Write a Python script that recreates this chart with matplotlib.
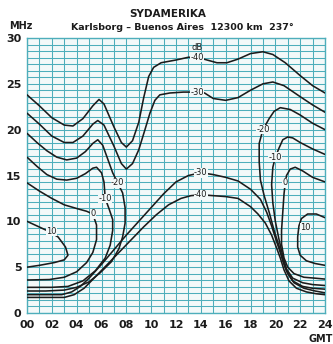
import matplotlib
matplotlib.use("Agg")
import matplotlib.pyplot as plt
import numpy as np

# Kurvor (tid i GMT, frekvens i MHz) avlasta fran diagrammet

m40_upp_t = [0, 1, 2, 3, 3.7, 4.5, 5.3, 5.8, 6.2, 7.0, 7.6, 8.0, 8.5, 9.0, 9.4, 9.8, 10.2, 10.8,
             12.0, 13.0, 13.7, 14.5, 15.3, 16.1, 17.0, 18.0, 19.0, 19.8, 20.8, 22.0, 23.0, 24]
m40_upp_f = [23.8, 22.6, 21.3, 20.5, 20.4, 21.2, 22.6, 23.3, 22.8, 20.3, 18.6, 18.1, 18.8, 20.8, 23.5,
             25.8, 26.8, 27.3, 27.6, 27.9, 27.9, 27.6, 27.3, 27.3, 27.7, 28.3, 28.5, 28.2, 27.3, 25.9, 24.8, 24.0]

m30_upp_t = [0, 1, 2, 3, 3.7, 4.5, 5.3, 5.7, 6.2, 7.0, 7.6, 8.0, 8.5, 9.0, 9.5, 9.9, 10.3, 10.7,
             11.5, 12.6, 13.7, 14.3, 15.0, 16.0, 17.0, 18.0, 19.0, 19.8, 20.7, 22.0, 23.0, 24]
m30_upp_f = [21.8, 20.6, 19.3, 18.6, 18.6, 19.3, 20.6, 21.0, 20.5, 18.2, 16.3, 15.7, 16.3, 17.8, 20.0,
             21.8, 23.2, 23.8, 24.0, 24.1, 24.1, 24.0, 23.4, 23.2, 23.5, 24.3, 25.0, 25.2, 24.8, 23.6, 22.7, 21.9]

m20_vanster_t = [0, 0.8, 1.6, 2.4, 3.2, 4.0, 4.7, 5.3, 5.7, 6.1, 6.5, 6.9, 7.3, 7.7, 7.9, 7.9, 7.7,
                 7.4, 6.8, 5.9, 5.0, 4.0, 3.0, 1.5, 0]
m20_vanster_f = [19.6, 18.6, 17.7, 17.0, 16.7, 16.9, 17.6, 18.5, 18.9, 18.3, 16.8, 15.3, 14.2, 13.1,
                 11.5, 9.8, 8.3, 7.0, 5.6, 4.4, 3.4, 2.8, 2.5, 2.4, 2.4]

m10_vanster_t = [0, 0.8, 1.6, 2.4, 3.2, 4.0, 4.7, 5.3, 5.6, 6.0, 6.2, 6.3, 6.6, 6.9, 6.9, 6.7, 6.3,
                 5.5, 4.5, 3.3, 2.0, 0]
m10_vanster_f = [17.0, 16.0, 15.1, 14.6, 14.5, 14.7, 15.2, 15.8, 15.9, 15.3, 14.3, 12.5, 11.4, 10.2,
                 9.0, 7.4, 6.0, 4.6, 3.5, 2.9, 2.8, 2.8]

noll_vanster_t = [0, 1.0, 2.0, 3.0, 4.0, 4.8, 5.3, 5.6, 5.6, 5.3, 4.8, 4.0, 3.0, 1.8, 0]
noll_vanster_f = [14.2, 13.3, 12.5, 11.8, 11.4, 11.1, 10.8, 9.6, 8.0, 6.6, 5.5, 4.5, 3.9, 3.65, 3.6]

p10_vanster_t = [0, 0.8, 1.6, 2.5, 3.1, 3.3, 3.0, 2.2, 1.0, 0]
p10_vanster_f = [10.0, 9.5, 9.0, 8.3, 7.2, 6.3, 5.8, 5.5, 5.2, 5.0]

m30_ned_t = [0, 2.8, 3.6, 4.3, 5.0, 6.0, 7.0, 8.0, 9.0, 10.0, 11.0, 12.0, 13.0, 14.0, 15.0, 16.0,
             17.0, 18.0, 18.8, 19.3, 19.7, 20.1, 20.4, 20.7, 21.0, 21.5, 22.3, 23.2, 24]
m30_ned_f = [2.0, 2.0, 2.3, 2.9, 3.8, 5.3, 6.9, 8.5, 10.0, 11.5, 13.0, 14.3, 15.0, 15.3, 15.1, 14.8,
             14.4, 13.5, 12.4, 11.0, 9.5, 7.8, 6.6, 5.3, 4.3, 3.3, 2.7, 2.4, 2.2]

m40_ned_t = [0, 3.0, 3.8, 4.6, 5.4, 6.4, 7.4, 8.4, 9.4, 10.4, 11.4, 12.4, 13.2, 14.0, 15.0, 16.0,
             17.0, 18.0, 18.6, 19.2, 19.7, 20.1, 20.4, 20.7, 21.1, 21.7, 22.5, 23.3, 24]
m40_ned_f = [1.7, 1.7, 2.0, 2.7, 3.8, 5.2, 6.6, 8.0, 9.4, 10.7, 11.8, 12.5, 12.8, 12.9, 12.8, 12.7,
             12.5, 11.6, 10.8, 9.8, 8.5, 7.1, 6.0, 4.7, 3.5, 2.7, 2.3, 2.1, 2.0]

m20_hoger_t = [24, 23, 22, 21.2, 20.4, 19.9, 19.5, 19.0, 18.7, 18.7, 18.8, 19.1, 19.5, 19.9,
               20.3, 20.6, 20.9, 21.4, 22.2, 23.0, 24]
m20_hoger_f = [20.0, 20.7, 21.6, 22.2, 22.4, 22.0, 21.2, 20.0, 18.5, 16.5, 14.5, 12.8, 11.0, 9.0,
               7.3, 5.8, 4.6, 3.5, 2.9, 2.7, 2.6]

m10_hoger_t = [24, 23, 22, 21.4, 21.0, 20.6, 20.3, 20.0, 19.8, 19.7, 19.8, 20.0, 20.3, 20.6, 20.9,
               21.4, 22.2, 23.0, 24]
m10_hoger_f = [17.3, 17.9, 18.6, 19.1, 19.2, 18.9, 18.0, 17.0, 15.9, 14.0, 12.0, 10.0, 8.0, 6.2,
               4.8, 3.8, 3.3, 3.1, 3.0]

noll_hoger_t = [24, 23, 22.2, 21.6, 21.2, 20.9, 20.8, 20.7, 20.6, 20.5, 20.5, 20.7, 21.0, 21.5,
                22.3, 23.2, 24]
noll_hoger_f = [14.3, 14.8, 15.5, 15.9, 15.7, 15.0, 14.2, 13.0, 11.0, 9.0, 7.5, 6.0, 5.0, 4.3,
                3.9, 3.8, 3.7]

p10_hoger_t = [24, 23.3, 22.6, 22.1, 21.9, 21.8, 21.8, 22.0, 22.5, 23.2, 24]
p10_hoger_f = [10.4, 10.8, 10.8, 10.3, 9.5, 8.3, 7.2, 6.3, 5.7, 5.4, 5.2]

# etiketter pa kurvorna
etikett_text = ["-40", "-30", "-20", "-10", "0", "-30", "-40", "10", "-20", "-10", "0", "10"]
etikett_t = [13.7, 13.7, 19.0, 20.0, 20.8, 14.0, 14.0, 22.4, 7.3, 6.3, 5.3, 2.0]
etikett_f = [27.9, 24.1, 20.0, 17.0, 14.2, 15.3, 12.9, 9.3, 14.2, 12.5, 10.8, 8.9]

timmar = list(range(0, 25, 2))
tim_text = [f"{h:02d}" for h in timmar]
mhz = [0, 5, 10, 15, 20, 25, 30]

BAKGRUND = "#f3f9f9"
RUTNAT = "#4eaebb"
SVART = "#1b1b1b"

fig = plt.figure(figsize=(3.33, 3.44), dpi=100)
fig.patch.set_facecolor("white")
ax = fig.add_axes([27 / 333, 31 / 344, 298 / 333, 275 / 344])
ax.set_facecolor(BAKGRUND)

kurvor = [
    (m40_upp_t, m40_upp_f), (m30_upp_t, m30_upp_f),
    (m20_vanster_t, m20_vanster_f), (m10_vanster_t, m10_vanster_f),
    (noll_vanster_t, noll_vanster_f), (p10_vanster_t, p10_vanster_f),
    (m30_ned_t, m30_ned_f), (m40_ned_t, m40_ned_f),
    (m20_hoger_t, m20_hoger_f), (m10_hoger_t, m10_hoger_f),
    (noll_hoger_t, noll_hoger_f), (p10_hoger_t, p10_hoger_f),
]
for t, f in kurvor:
    ax.plot(t, f, color=SVART, lw=1.15, solid_capstyle="round", zorder=3)

for txt, t, f in zip(etikett_text, etikett_t, etikett_f):
    ax.text(t, f, txt, fontsize=6, color=SVART, ha="center", va="center", zorder=4,
            bbox=dict(facecolor=BAKGRUND, edgecolor="none", pad=0.2))
ax.text(13.7, 28.95, "dB", fontsize=6, color=SVART, ha="center", va="center", zorder=4)

ax.set_xlim(0, 24)
ax.set_ylim(0, 30)
ax.set_xticks(timmar)
ax.set_xticklabels(tim_text)
ax.set_yticks(mhz)
ax.set_xticks(np.arange(0, 25, 1), minor=True)
ax.set_yticks(np.arange(0, 30.01, 5 / 7), minor=True)
ax.grid(which="both", color=RUTNAT, lw=0.75)
ax.set_axisbelow(True)
ax.tick_params(which="both", length=0)
ax.tick_params(axis="x", pad=5, labelsize=8)
ax.tick_params(axis="y", pad=4, labelsize=8)
for lab in ax.get_xticklabels() + ax.get_yticklabels():
    lab.set_fontweight("bold")
    lab.set_color(SVART)
for s in ax.spines.values():
    s.set_color(RUTNAT)
    s.set_linewidth(1.0)

fig.text(168 / 333, 1 - 14 / 344, "SYDAMERIKA", fontsize=7.5, fontweight="bold",
         color=SVART, ha="center", va="center")
fig.text(182 / 333, 1 - 27 / 344, "Karlsborg – Buenos Aires  12300 km  237°", fontsize=6.8,
         fontweight="bold", color=SVART, ha="center", va="center")
fig.text(21 / 333, 1 - 26 / 344, "MHz", fontsize=7, fontweight="bold", color=SVART,
         ha="center", va="center")
fig.text(321 / 333, 1 - 339 / 344, "GMT", fontsize=7, fontweight="bold", color=SVART,
         ha="center", va="center")

fig.savefig("out.png", dpi=100)
